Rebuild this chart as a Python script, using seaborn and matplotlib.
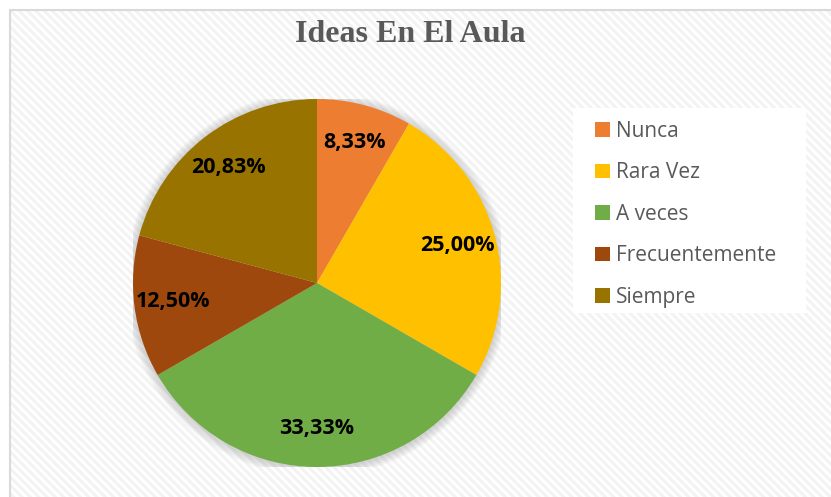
import matplotlib
matplotlib.use("Agg")
import matplotlib.pyplot as plt
from matplotlib.patches import Rectangle, Circle
import seaborn as sns

categories = ["Nunca", "Rara Vez", "A veces", "Frecuentemente", "Siempre"]
values = [8.33, 25.00, 33.33, 12.50, 20.83]
colors_hex = ["#ED7D31", "#FFC000", "#70AD47", "#9E480E", "#997300"]
title = "Ideas En El Aula"

sns.set_theme(style="white")
plt.rcParams["font.family"] = ["Open Sans", "DejaVu Sans"]
plt.rcParams["hatch.linewidth"] = 2.2

palette = sns.color_palette(colors_hex)

W, H = 831, 497
fig = plt.figure(figsize=(W / 100, H / 100), dpi=100)
fig.patch.set_facecolor("white")

# hatched background with light border
bg = Rectangle((10 / W, -0.01), 1.0, 1 - 10 / H + 0.01, transform=fig.transFigure,
               facecolor="white", edgecolor="#F3F3F3", hatch=r"\\\\", linewidth=0, zorder=-3)
fig.patches.append(bg)
border = Rectangle((10 / W, -0.01), 1.0, 1 - 10 / H + 0.01, transform=fig.transFigure,
                   facecolor="none", edgecolor="#D9D9D9", linewidth=1.5, zorder=-2)
fig.patches.append(border)

# legend white box
lx0, lx1, ly0, ly1 = 573, 806, 108, 313
lbox = Rectangle((lx0 / W, (H - ly1) / H), (lx1 - lx0) / W, (ly1 - ly0) / H,
                 transform=fig.transFigure, facecolor="white", edgecolor="none", zorder=-1)
fig.patches.append(lbox)

cx, cy, r = 317, 283, 184
ax = fig.add_axes([(cx - r) / W, (H - cy - r) / H, 2 * r / W, 2 * r / H])
ax.set_facecolor("none")

# soft glow shadow
for i in range(8):
    ax.add_patch(Circle((0, -0.005), 1.0 + 0.006 * (i + 1), facecolor="#7F7F7F",
                        edgecolor="none", alpha=0.045, zorder=0))

wedges, texts, autotexts = ax.pie(
    values, colors=palette, startangle=90, counterclock=False,
    autopct=lambda p: f"{p:.2f}%".replace(".", ","), pctdistance=0.79,
    wedgeprops=dict(linewidth=0, edgecolor="none"),
    textprops=dict(fontsize=15.5, fontweight="bold", color="black"),
)
for w in wedges:
    w.set_zorder(2)
for t in autotexts:
    t.set_zorder(3)
ax.set_xlim(-1, 1)
ax.set_ylim(-1, 1)
ax.set_aspect("equal")
ax.axis("off")

fig.text(410 / W, 1 - 35 / H, title, ha="center", va="center",
         fontsize=23, fontweight="bold", color="#595959",
         family=["Liberation Serif", "DejaVu Serif"])

leg = fig.legend(wedges, categories, loc="upper left",
                 bbox_to_anchor=(595 / W, 1 - 121 / H), borderaxespad=0, borderpad=0,
                 frameon=False, fontsize=15, labelcolor="#595959",
                 handlelength=0.7, handleheight=0.7,
                 handletextpad=0.3, labelspacing=0.98)
leg.set_zorder(5)

fig.savefig("out.png", dpi=100)
